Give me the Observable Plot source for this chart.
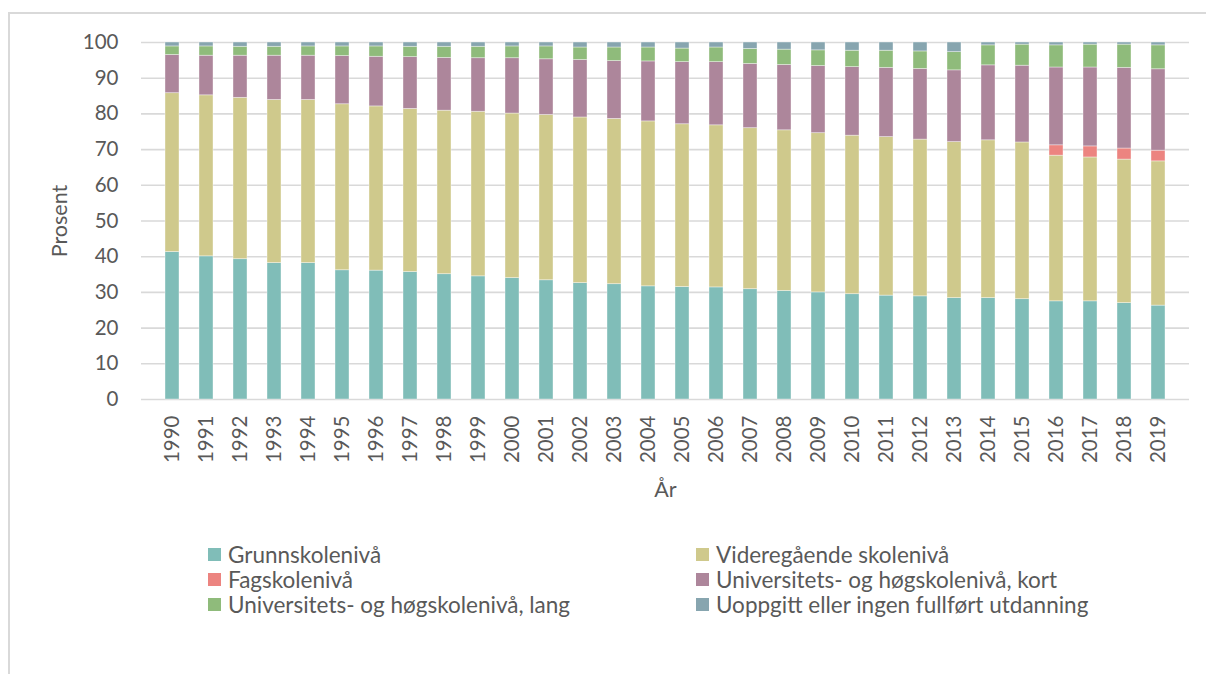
<!DOCTYPE html>
<html>
<head>
<meta charset="utf-8">
<script src="https://cdn.jsdelivr.net/npm/d3@7"></script>
<script src="https://cdn.jsdelivr.net/npm/@observablehq/plot@0.6"></script>
<style>
  html, body { margin: 0; padding: 0; background: #fff; }
  body { width: 1206px; height: 674px; position: relative; overflow: hidden; font-family: Lato, "Open Sans", sans-serif; }
  #frame { position: absolute; left: 8px; top: 12px; width: 1300px; height: 700px; border-left: 2px solid #d9d9d9; border-top: 2px solid #d9d9d9; }
  #chart { position: absolute; left: 0; top: 0; }
  #legend { position: absolute; left: 0; top: 0; width: 1206px; height: 674px; pointer-events: none; }
  .item { position: absolute; display: flex; align-items: center; font-size: 22.5px; color: #595959; white-space: nowrap; height: 24px; }
  .sw { width: 13px; height: 13px; margin-right: 7px; flex: none; }
</style>
</head>
<body>
<div id="frame"></div>
<div id="chart"></div>
<div id="legend"></div>
<script>
const years = [1990,1991,1992,1993,1994,1995,1996,1997,1998,1999,2000,2001,2002,2003,2004,2005,2006,2007,2008,2009,2010,2011,2012,2013,2014,2015,2016,2017,2018,2019];
const seriesNames = ["Grunnskolenivå","Videregående skolenivå","Fagskolenivå","Universitets- og høgskolenivå, kort","Universitets- og høgskolenivå, lang","Uoppgitt eller ingen fullført utdanning"];
const seriesColors = ["#80bdb8","#cfc98c","#ec8480","#ad869b","#8fbb7b","#87a5af"];

const grunnskole = [41.3,40.1,39.3,38.2,38.2,36.2,36.1,35.7,35.1,34.5,34.0,33.4,32.6,32.3,31.7,31.5,31.4,30.9,30.4,30.0,29.5,29.1,28.9,28.4,28.4,28.1,27.5,27.5,27.0,26.3];
const videregaende = [44.5,45.1,45.2,45.7,45.7,46.5,46.0,45.7,45.8,46.1,46.1,46.3,46.4,46.3,46.2,45.6,45.4,45.1,45.0,44.6,44.4,44.4,43.9,43.7,44.2,43.9,40.8,40.3,40.2,40.4];
const fagskole = [0,0,0,0,0,0,0,0,0,0,0,0,0,0,0,0,0,0,0,0,0,0,0,0,0,0,2.9,3.1,3.1,3.0];
const uniKort = [10.7,11.1,11.8,12.4,12.4,13.5,13.9,14.5,14.8,15.0,15.5,15.6,16.1,16.2,16.8,17.4,17.7,18.0,18.3,18.8,19.2,19.4,19.8,20.1,21.0,21.5,21.8,22.1,22.6,22.8];
const uniLang = [2.4,2.6,2.5,2.5,2.6,2.7,2.9,2.9,3.1,3.2,3.3,3.6,3.5,3.8,3.9,3.8,4.1,4.2,4.3,4.4,4.6,4.8,4.9,5.1,5.6,5.9,6.2,6.4,6.5,6.7];
const uoppgitt = [1.1,1.1,1.2,1.2,1.1,1.1,1.1,1.2,1.2,1.2,1.1,1.1,1.4,1.4,1.4,1.7,1.4,1.8,2.0,2.2,2.3,2.3,2.5,2.7,0.8,0.6,0.8,0.6,0.6,0.8];
const yTicks = [0,10,20,30,40,50,60,70,80,90,100];

const seriesValues = [grunnskole, videregaende, fagskole, uniKort, uniLang, uoppgitt];
const data = [];
seriesValues.forEach((vals, si) => {
  years.forEach((yr, i) => data.push({year: String(yr), series: seriesNames[si], value: vals[i]}));
});

const textColor = "#595959";
const font = "Lato, 'Open Sans', sans-serif";

const plot = Plot.plot({
  width: 1206,
  height: 510,
  marginTop: 42,
  marginBottom: 111,
  marginLeft: 141,
  marginRight: 17,
  style: {fontFamily: font, color: textColor, background: "transparent", overflow: "visible"},
  x: {domain: years.map(String), paddingInner: 0.6, paddingOuter: 0.3, label: null},
  y: {domain: [0, 100], label: null},
  color: {domain: seriesNames, range: seriesColors},
  marks: [
    Plot.gridY(yTicks, {stroke: "#d9d9d9", strokeOpacity: 1, strokeWidth: 1.6}),
    Plot.barY(data, Plot.stackY({x: "year", y: "value", fill: "series", stroke: "#ffffff", strokeOpacity: 0.5, strokeWidth: 0.75, order: seriesNames})),
    Plot.axisY(yTicks, {tickSize: 0, tickPadding: 23, fontSize: 20.5, fill: textColor, label: null}),
    Plot.axisX({tickSize: 0, tickPadding: 16, tickRotate: -90, fontSize: 20.5, fill: textColor, label: null}),
    Plot.text(["Prosent"], {frameAnchor: "left", dx: -81, rotate: -90, textAnchor: "middle", lineAnchor: "middle", fontSize: 21.5, fill: textColor}),
    Plot.text(["År"], {frameAnchor: "bottom", dy: 91, textAnchor: "middle", lineAnchor: "middle", fontSize: 21.5, fill: textColor})
  ]
});
document.getElementById("chart").appendChild(plot);

const legend = document.getElementById("legend");
const legendPos = [
  [208, 554], [696, 554],
  [208, 579], [696, 579],
  [208, 604], [696, 604]
];
seriesNames.forEach((name, k) => {
  const [lx, ly] = legendPos[k];
  const item = document.createElement("div");
  item.className = "item";
  item.style.left = lx + "px";
  item.style.top = (ly - 12) + "px";
  const sw = document.createElement("span");
  sw.className = "sw";
  sw.style.background = seriesColors[k];
  const tx = document.createElement("span");
  tx.textContent = name;
  item.appendChild(sw);
  item.appendChild(tx);
  legend.appendChild(item);
});
</script>
</body>
</html>
